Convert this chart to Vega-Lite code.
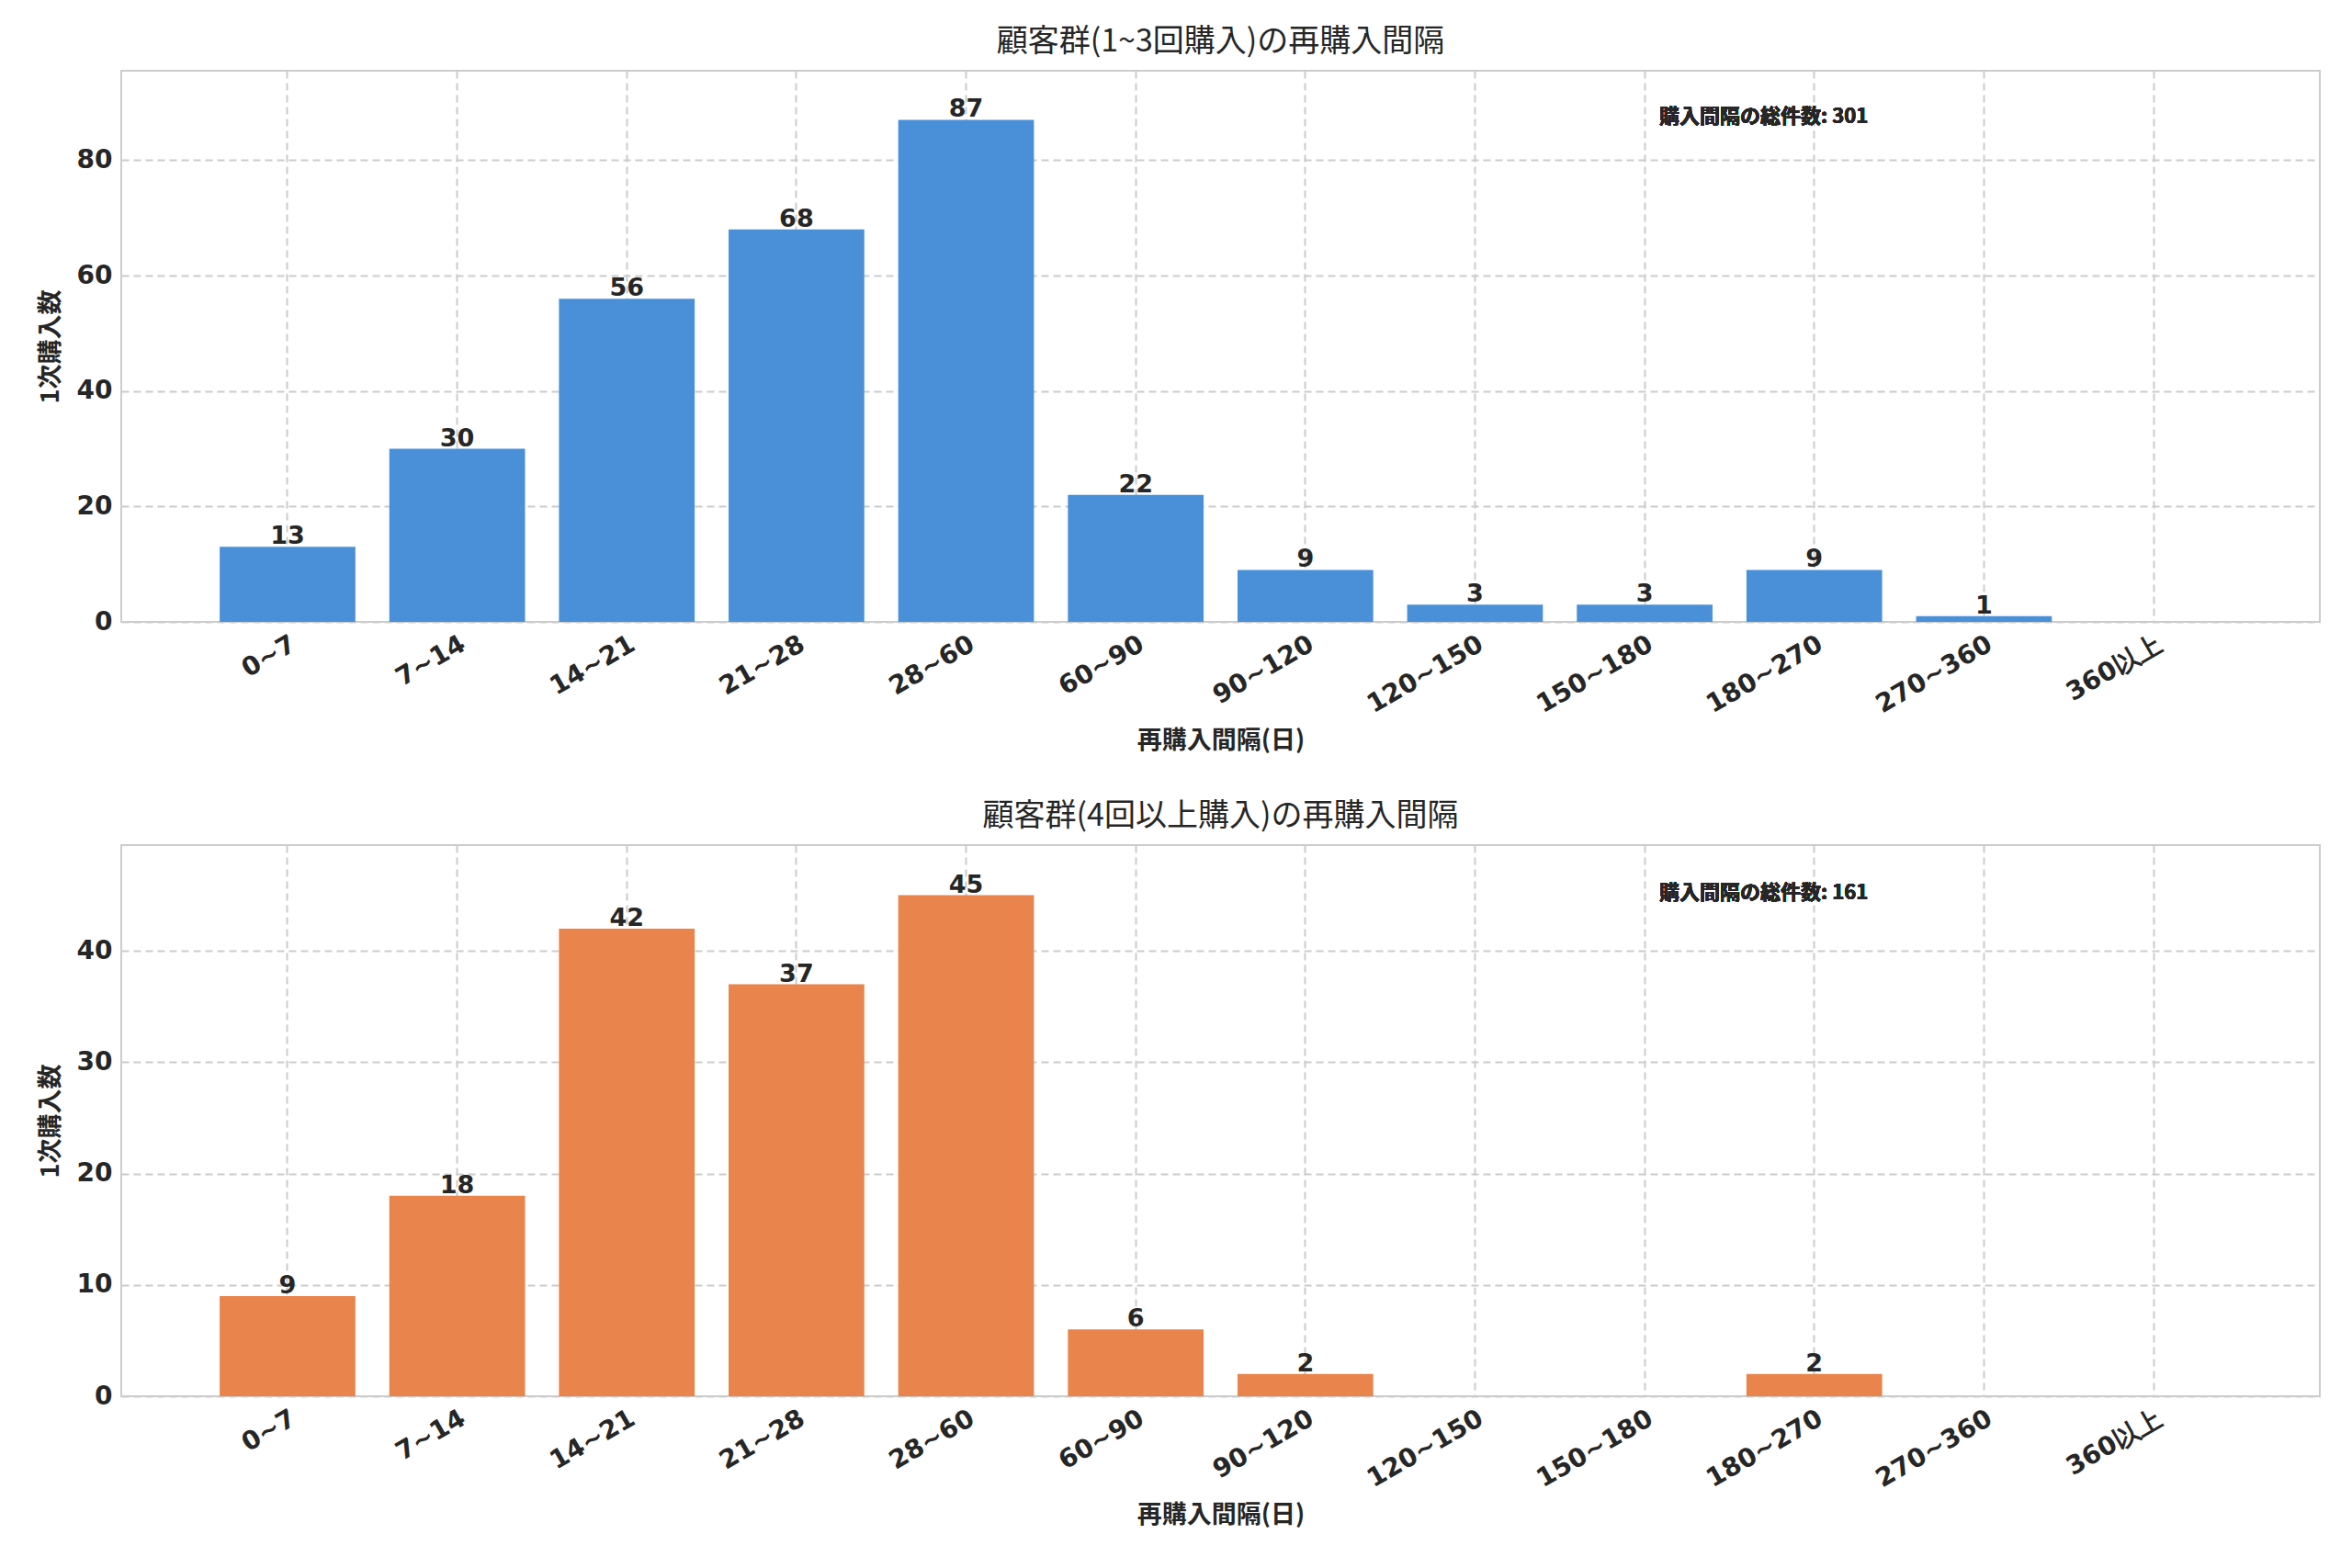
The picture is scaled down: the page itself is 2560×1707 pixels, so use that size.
{
  "$schema": "https://vega.github.io/schema/vega-lite/v6.json",
  "background": "white",
  "padding": {"left": 40, "top": 28, "right": 20, "bottom": 10},
  "spacing": 50,
  "datasets": {
    "low": [
      {"bin": "0~7", "count": 13}, {"bin": "7~14", "count": 30}, {"bin": "14~21", "count": 56},
      {"bin": "21~28", "count": 68}, {"bin": "28~60", "count": 87}, {"bin": "60~90", "count": 22},
      {"bin": "90~120", "count": 9}, {"bin": "120~150", "count": 3}, {"bin": "150~180", "count": 3},
      {"bin": "180~270", "count": 9}, {"bin": "270~360", "count": 1}, {"bin": "360以上", "count": 0}
    ],
    "high": [
      {"bin": "0~7", "count": 9}, {"bin": "7~14", "count": 18}, {"bin": "14~21", "count": 42},
      {"bin": "21~28", "count": 37}, {"bin": "28~60", "count": 45}, {"bin": "60~90", "count": 6},
      {"bin": "90~120", "count": 2}, {"bin": "120~150", "count": 0}, {"bin": "150~180", "count": 0},
      {"bin": "180~270", "count": 2}, {"bin": "270~360", "count": 0}, {"bin": "360以上", "count": 0}
    ]
  },
  "config": {
    "font": "DejaVu Sans",
    "view": {"stroke": "#cccccc", "strokeWidth": 2},
    "axis": {
      "labelFont": "DejaVu Sans", "labelFontWeight": "bold", "labelFontSize": 28, "labelColor": "#262626",
      "titleFont": "Noto Sans CJK JP", "titleFontWeight": "bold", "titleFontSize": 27, "titleColor": "#262626",
      "grid": true, "gridDash": [8, 5], "gridColor": "#cccccc", "gridWidth": 2,
      "domain": false, "ticks": false, "labelPadding": 10
    },
    "title": {"font": "Noto Sans CJK JP", "fontSize": 34, "fontWeight": "normal", "color": "#262626", "offset": 14}
  },
  "vconcat": [
    {
      "width": 2393, "height": 600,
      "title": "顧客群(1~3回購入)の再購入間隔",
      "data": {"name": "low"},
      "encoding": {
        "x": {"field": "bin", "type": "nominal", "sort": null, "scale": {"paddingInner": 0.2, "paddingOuter": 0.58},
              "axis": {"labelAngle": -30, "title": "再購入間隔(日)", "titlePadding": 12}},
        "y": {"field": "count", "type": "quantitative", "scale": {"domain": [0, 95.5], "nice": false},
              "axis": {"values": [0, 20, 40, 60, 80], "title": "1次購入数", "titlePadding": 14}}
      },
      "layer": [
        {"mark": {"type": "bar", "color": "#4a90d9"}},
        {"mark": {"type": "text", "font": "DejaVu Sans", "fontWeight": "bold", "fontSize": 27, "color": "#262626", "baseline": "bottom", "dy": 3},
         "transform": [{"filter": "datum.count > 0"}],
         "encoding": {"text": {"field": "count"}}},
        {"mark": {"type": "text", "font": "Noto Sans CJK JP", "fontWeight": "bold", "fontSize": 22, "color": "#262626", "align": "left", "dx": 16},
         "encoding": {"x": {"datum": "150~180"}, "y": {"datum": 87.5}, "text": {"value": "購入間隔の総件数: 301"}}}
      ]
    },
    {
      "width": 2393, "height": 600,
      "title": "顧客群(4回以上購入)の再購入間隔",
      "data": {"name": "high"},
      "encoding": {
        "x": {"field": "bin", "type": "nominal", "sort": null, "scale": {"paddingInner": 0.2, "paddingOuter": 0.58},
              "axis": {"labelAngle": -30, "title": "再購入間隔(日)", "titlePadding": 12}},
        "y": {"field": "count", "type": "quantitative", "scale": {"domain": [0, 49.5], "nice": false},
              "axis": {"values": [0, 10, 20, 30, 40], "title": "1次購入数", "titlePadding": 14}}
      },
      "layer": [
        {"mark": {"type": "bar", "color": "#e8844c"}},
        {"mark": {"type": "text", "font": "DejaVu Sans", "fontWeight": "bold", "fontSize": 27, "color": "#262626", "baseline": "bottom", "dy": 3},
         "transform": [{"filter": "datum.count > 0"}],
         "encoding": {"text": {"field": "count"}}},
        {"mark": {"type": "text", "font": "Noto Sans CJK JP", "fontWeight": "bold", "fontSize": 22, "color": "#262626", "align": "left", "dx": 16},
         "encoding": {"x": {"datum": "150~180"}, "y": {"datum": 45.2}, "text": {"value": "購入間隔の総件数: 161"}}}
      ]
    }
  ]
}
